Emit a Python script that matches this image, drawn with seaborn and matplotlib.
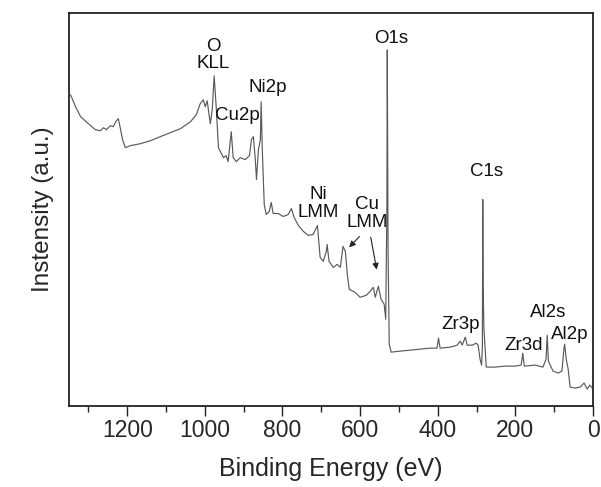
import matplotlib
matplotlib.use("Agg")
import matplotlib.pyplot as plt
import seaborn as sns
import pandas as pd

# XPS survey spectrum (binding energy in eV, intensity in arbitrary units)
energy_ev = [1346, 1333, 1320, 1300, 1282, 1269, 1261, 1254, 1243, 1236, 1228, 1223,
             1218, 1212, 1205, 1192, 1166, 1140, 1115, 1089, 1063, 1037, 1022, 1012,
             1004, 999, 994, 986, 981, 976, 970, 965, 960, 952, 945, 940, 932, 927,
             919, 909, 896, 885, 880, 875, 870, 867, 862, 857, 855, 852, 847, 842,
             834, 829, 824, 811, 798, 785, 777, 770, 759, 746, 734, 721, 710, 703,
             695, 687, 685, 680, 669, 659, 651, 644, 638, 633, 628, 613, 600, 584,
             574, 566, 561, 553, 546, 538, 534, 531, 530, 529, 528, 525, 520, 497,
             471, 445, 420, 402, 398, 394, 368, 350, 342, 337, 329, 324, 311, 301,
             296, 291, 287, 285, 284, 283, 281, 275, 252, 227, 201, 185, 181, 177,
             149, 129, 121, 118, 115, 103, 90, 80, 75, 73, 69, 64, 59, 46, 33, 23,
             15, 8, 0]
intensity = [312, 300, 290, 283, 277, 276, 279, 277, 281, 280, 286, 288,
             279, 267, 259, 261, 263, 266, 270, 274, 278, 285, 292, 303,
             307, 300, 306, 283, 297, 331, 295, 259, 255, 249, 251, 245, 275, 249,
             245, 249, 247, 251, 267, 270, 247, 227, 257, 267, 305, 257, 202, 192,
             195, 204, 193, 193, 190, 192, 198, 189, 181, 175, 171, 172, 181, 149,
             145, 155, 162, 145, 139, 142, 139, 160, 155, 132, 117, 114, 109, 111,
             115, 119, 109, 120, 107, 102, 87, 200, 357, 250, 157, 62, 54, 55,
             56, 57, 58, 58, 68, 58, 59, 61, 65, 61, 69, 61, 61, 63,
             61, 47, 41, 60, 207, 120, 77, 39, 39, 40, 40, 41, 53, 40,
             41, 39, 47, 71, 45, 35, 33, 35, 57, 62, 47, 37, 19, 18, 19, 23,
             17, 21, 17]

peak_names = ["O\nKLL", "Cu2p", "Ni2p", "Ni\nLMM", "Cu\nLMM", "O1s", "C1s",
              "Zr3p", "Zr3d", "Al2s", "Al2p"]

df = pd.DataFrame({"Binding Energy (eV)": energy_ev, "Intensity": intensity})

sns.set_style("ticks")
plt.rcParams["font.family"] = ["Liberation Sans", "DejaVu Sans"]

fig = plt.figure(figsize=(6.01, 4.87), dpi=100)
ax = fig.add_axes([69 / 601, 1 - 406 / 487, (593 - 69) / 601, (406 - 13) / 487])

sns.lineplot(data=df, x="Binding Energy (eV)", y="Intensity", ax=ax,
             sort=False, estimator=None, color="#5a5a5a", linewidth=0.85)

ax.set_xlim(1350, 0)
ax.set_ylim(0, 394)
ax.set_xticks([1200, 1000, 800, 600, 400, 200, 0])
ax.set_xticks([1300, 1100, 900, 700, 500, 300, 100], minor=True)
ax.set_yticks([])
ax.tick_params(axis="x", which="major", length=7, width=1.0, labelsize=16.5,
               direction="out", color="#222222", pad=2.5)
ax.tick_params(axis="x", which="minor", length=4.5, width=1.0, direction="out",
               color="#222222")
for s in ax.spines.values():
    s.set_linewidth(1.3)
    s.set_color("#222222")
ax.set_xlabel("Binding Energy (eV)", fontsize=18, labelpad=11)
ax.set_ylabel("Instensity (a.u.)", fontsize=17.5, labelpad=11)

label_pos = [(978, 352), (916, 291), (837, 319), (708, 203), (582, 193),
             (520, 368), (273, 235), (340, 82), (180, 61), (116, 94), (59, 72)]
for name, (ex, iy) in zip(peak_names, label_pos):
    ax.text(ex, iy, name, fontsize=13.5, ha="center", va="center",
            color="#111111", linespacing=1.05)

arrow_kw = dict(arrowstyle="-|>", color="#222222", lw=0.8, mutation_scale=9)
ax.annotate("", xy=(633, 157), xytext=(597, 172), arrowprops=arrow_kw)
ax.annotate("", xy=(556, 134), xytext=(574, 172), arrowprops=arrow_kw)

fig.savefig("out.png", dpi=100)
